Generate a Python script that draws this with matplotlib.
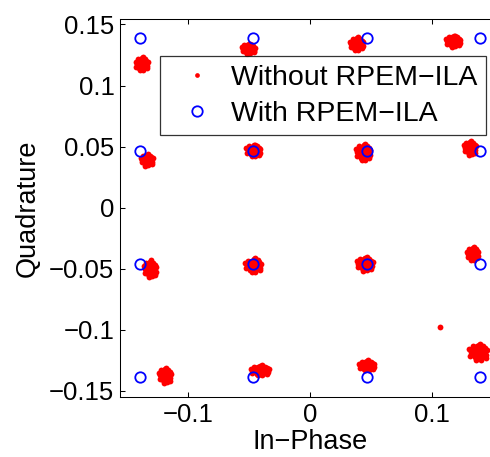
import numpy as np
import matplotlib
matplotlib.use("Agg")
import matplotlib.pyplot as plt

plt.rcParams['font.family'] = ['Liberation Sans', 'DejaVu Sans']

# ── 1. Data ───────────────────────────────────────────────────────────────────

# ideal 16-QAM points (blue circles)
ideal_levels = [-0.139, -0.0465, 0.0465, 0.139]

# received cluster centres (red dots), row by row from the top
cluster_x = [-0.1377, -0.0505, 0.0382, 0.1173,
             -0.1336, -0.0464, 0.0436, 0.1309,
             -0.1309, -0.0464, 0.0450, 0.1331,
             -0.1187, -0.0409, 0.0464, 0.1377]
cluster_y = [0.1180, 0.1303, 0.1344, 0.1365,
             0.0394, 0.0470, 0.0457, 0.0493,
             -0.0498, -0.0470, -0.0457, -0.0375,
             -0.1370, -0.1330, -0.1289, -0.1180]
# spread of each cluster (x, y)
spread_x = [1.10, 1.15, 1.15, 1.30, 1.07, 1.25, 1.25, 1.07,
            1.07, 1.40, 1.40, 1.00, 1.07, 1.60, 1.35, 1.60]
spread_y = [1.15, 0.90, 1.15, 1.00, 1.07, 1.07, 1.50, 1.25,
            1.50, 1.25, 1.25, 1.15, 1.35, 0.90, 0.90, 1.50]

# scatter shape inside a cluster (units of 1e-3)
shape_dx = [0, 1.5, -1.2, 2.8, -2.5, 0.6, -0.8, 3.5, -3.4, 1.9, -1.7, 0.2,
            4.2, -4.0, 2.6, -2.9, 0.9, -0.4, 1.2, -1.6, 3.1, -3.8, 2.0, -2.2,
            0.5, 4.5, -4.6, 1.0, -1.0, 3.8]
shape_dy = [0, 0.8, 1.5, -0.6, -1.0, -2.4, 2.9, 1.9, 0.9, -2.8, -3.1, 3.8,
            -1.8, -2.2, 3.1, 3.0, 1.2, -1.1, -4.3, 0.3, 0.2, -0.1, -1.4, 2.0,
            -3.6, 0.9, 1.4, 4.4, -4.6, -3.5]

# stray sample
outlier_x = [0.1064]
outlier_y = [-0.0980]

# ── 2. Build point sets ───────────────────────────────────────────────────────

dx = np.array(shape_dx) * 1e-3
dy = np.array(shape_dy) * 1e-3
red_x = (np.array(cluster_x)[:, None] + np.array(spread_x)[:, None] * dx).ravel()
red_y = (np.array(cluster_y)[:, None] + np.array(spread_y)[:, None] * dy).ravel()
red_x = np.concatenate([red_x, outlier_x])
red_y = np.concatenate([red_y, outlier_y])

gx, gy = np.meshgrid(ideal_levels, ideal_levels)

# ── 3. Plot ───────────────────────────────────────────────────────────────────

fig = plt.figure(figsize=(4.9, 4.57), dpi=100)
ax = fig.add_axes([120 / 490, 60 / 457, 380 / 490, 378 / 457])

ax.plot(red_x, red_y, 'o', color='red', ms=4.2, mew=0,
        label='Without RPEM\u2212ILA')
ax.plot(gx.ravel(), gy.ravel(), 'o', color='blue', ms=7.5, mew=1.3,
        fillstyle='none', label='With RPEM\u2212ILA')

ax.set_xlim(-0.1555, 0.1555)
ax.set_ylim(-0.155, 0.1545)
ax.set_xticks([-0.1, 0, 0.1])
ax.set_xticklabels(['\u22120.1', '0', '0.1'])
ax.set_yticks([-0.15, -0.1, -0.05, 0, 0.05, 0.1, 0.15])
ax.set_yticklabels(['\u22120.15', '\u22120.1', '\u22120.05', '0',
                    '0.05', '0.1', '0.15'])
ax.tick_params(direction='in', length=3.5, width=0.75, labelsize=18.5,
               top=True, right=True, pad=4)
for sp in ax.spines.values():
    sp.set_linewidth(0.75)

ax.set_xlabel('In\u2212Phase', fontsize=19.5, labelpad=2)
ax.set_ylabel('Quadrature', fontsize=19.5, labelpad=6)

leg = ax.legend(loc='upper left', bbox_to_anchor=(0.105, 0.902),
                fontsize=20.5, frameon=True, fancybox=False,
                edgecolor='black', borderpad=0.3, labelspacing=0.35,
                handlelength=2.0, handletextpad=0.2, borderaxespad=0)
leg.get_frame().set_linewidth(0.9)
leg.legend_handles[0].set_markersize(3.4)

fig.savefig('out.png', dpi=100, facecolor='white')
